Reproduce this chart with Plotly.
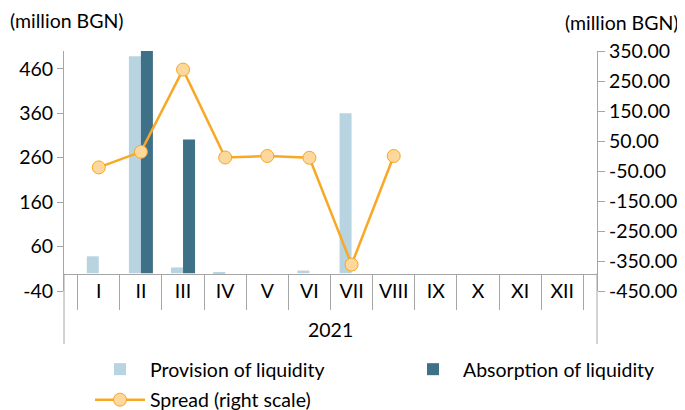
import plotly.graph_objects as go

months = ["I", "II", "III", "IV", "V", "VI", "VII", "VIII", "IX", "X", "XI", "XII"]
year = ["2021"] * 12
provision = [38, 488, 13, 1, 0, 6, 360, 0, 0, 0, 0, 0]
absorption = [0, 505, 301, 0, 0, 0, 0, 0, 0, 0, 0, 0]
spread = [-38, 14, 288, -5, 0, -6, -362, 0, None, None, None, None]

left_ticks = [-40, 60, 160, 260, 360, 460]
right_ticks = [-450, -350, -250, -150, -50, 50, 150, 250, 350]

FONT = "Lato, 'Open Sans', sans-serif"
FS = 19.5
GRID = "#A6A6A6"
# outer category level is shown as a separate label placed lower, like the reference
x = [[" "] * len(months), months]

fig = go.Figure()
fig.add_trace(go.Bar(x=x, y=provision, name="Provision of liquidity", legend="legend",
                     marker=dict(color="#B8D4E0", line=dict(width=0))))
fig.add_trace(go.Bar(x=x, y=absorption, name="Absorption of liquidity", legend="legend2",
                     marker=dict(color="#3E7087", line=dict(width=0))))
fig.add_trace(go.Scatter(x=x, y=spread, name="Spread (right scale)", yaxis="y2",
                         legend="legend3", mode="lines+markers",
                         line=dict(color="#F9A825", width=2.5),
                         marker=dict(size=13, color="#FDD89C",
                                     line=dict(color="#F5A623", width=1))))

# the page body adds an 8px margin, so the figure is laid out in page pixels minus 8
OFF = 8
W, H = 685 - OFF, 410 - OFF
L, R = 64 - OFF, 597 - OFF
top, bottom = 51 - OFF, 291 - OFF
zero_y = 273.5 - OFF
pw, ph = R - L, bottom - top


def px_x(px):
    return (px - OFF - L) / pw


def px_y(py):
    return (bottom - (py - OFF)) / ph


leg_common = dict(xref="container", yref="container", xanchor="left", yanchor="middle",
                  itemwidth=50, font=dict(size=FS), bgcolor="rgba(0,0,0,0)")

axis_pos = (bottom - zero_y) / ph

fig.update_layout(
    width=W, height=H,
    margin=dict(l=L, r=W - R, t=top, b=H - bottom, autoexpand=False),
    paper_bgcolor="white", plot_bgcolor="white",
    font=dict(family=FONT, size=FS, color="#000000"),
    barmode="group", bargap=0.43, bargroupgap=0,
    showlegend=True,
    legend=dict(x=(90 - OFF) / W, y=1 - (369.5 - OFF) / H, **leg_common),
    legend2=dict(x=(403 - OFF) / W, y=1 - (369.5 - OFF) / H, **leg_common),
    legend3=dict(x=(90 - OFF) / W, y=1 - (400 - OFF) / H, **leg_common),
    xaxis=dict(type="multicategory", anchor="free", automargin=False,
               position=axis_pos,
               showline=True, linecolor=GRID, linewidth=1,
               ticks="outside", tickson="boundaries", ticklen=35,
               tickcolor=GRID, showdividers=False,
               showgrid=False, tickfont=dict(size=FS)),
    yaxis=dict(range=[-40, 500], tickvals=left_ticks, ticktext=[str(v) for v in left_ticks],
               showline=True, linecolor=GRID, linewidth=1, automargin=False,
               ticks="outside", ticklen=6, tickcolor=GRID,
               showgrid=False, zeroline=False, tickfont=dict(size=FS)),
    yaxis2=dict(range=[-450, 350], tickvals=right_ticks,
                ticktext=[f"{v:.2f}" for v in right_ticks],
                overlaying="y", side="right", automargin=False,
                showline=True, linecolor=GRID, linewidth=1,
                ticks="outside", ticklen=7, tickcolor=GRID,
                showgrid=False, zeroline=False, tickfont=dict(size=FS)),
    shapes=[
        dict(type="line", xref="paper", yref="paper", x0=0, x1=0,
             y0=axis_pos, y1=px_y(344), line=dict(color=GRID, width=1)),
        dict(type="line", xref="paper", yref="paper", x0=1, x1=1,
             y0=axis_pos, y1=px_y(344), line=dict(color=GRID, width=1)),
    ],
    annotations=[
        dict(text=year[0], xref="paper", yref="paper", x=0.5, y=px_y(329),
             xanchor="center", yanchor="middle", showarrow=False, font=dict(size=FS)),
        dict(text="(million BGN)", xref="paper", yref="paper", x=px_x(8), y=px_y(20),
             xanchor="left", yanchor="middle", showarrow=False, font=dict(size=FS)),
        dict(text="(million BGN)", xref="paper", yref="paper", x=px_x(681), y=px_y(23),
             xanchor="right", yanchor="middle", showarrow=False, font=dict(size=FS)),
    ],
)

fig.write_html("out.html")
